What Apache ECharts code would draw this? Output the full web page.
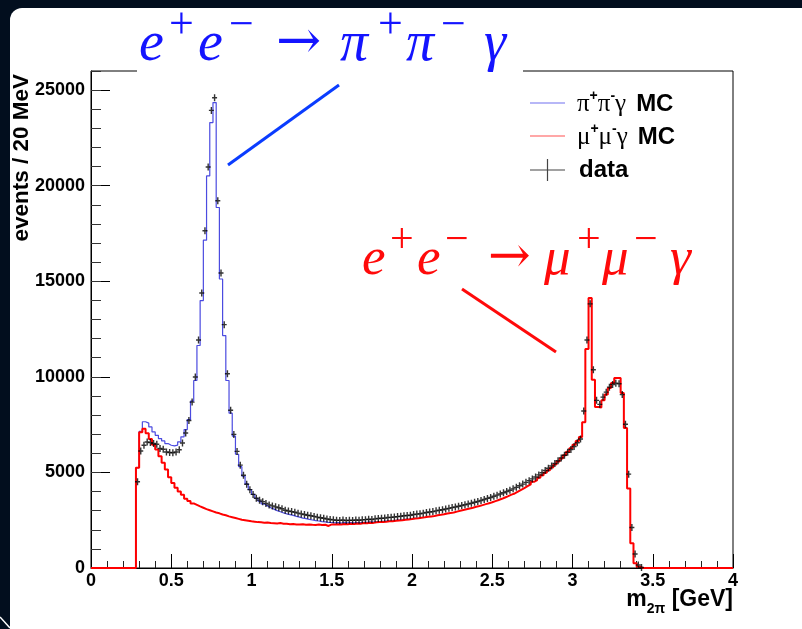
<!DOCTYPE html>
<html>
<head>
<meta charset="utf-8">
<script src="https://cdn.jsdelivr.net/npm/echarts@6/dist/echarts.min.js"></script>
<style>
  html, body { margin: 0; padding: 0; background: #020e1e; }
  #panel { position: absolute; left: 10px; top: 8px; width: 792px; height: 621px; background: #fff; border-top-left-radius: 12px; }
  #chart { position: absolute; left: 0; top: 0; width: 802px; height: 629px; }
</style>
</head>
<body>
<div id="panel"></div>
<div id="chart"></div>
<script>
// Invariant-mass histograms, 20 MeV bins from 0 to 4 GeV
const binWidth = 0.02;

// mu+ mu- gamma Monte Carlo, bins 0..199
const muMC = [
  0, 0, 0, 0, 0, 0, 0, 0, 0, 0, 0, 0, 0, 0,
  5250, 7100, 7290, 7050, 6750, 6450, 6200, 5850, 5500, 5150,
  4750, 4450, 4200, 4000, 3830, 3620, 3500, 3380, 3300, 3220,
  3150, 3080, 3020, 2960, 2900, 2860, 2800, 2760, 2700, 2660,
  2620, 2570, 2520, 2500, 2470, 2440, 2420, 2400, 2390, 2370,
  2380, 2350, 2340, 2330, 2350, 2320, 2310, 2290, 2300, 2280,
  2270, 2290, 2260, 2280, 2260, 2250, 2270, 2250, 2260, 2200,
  2280, 2270, 2290, 2280, 2300, 2290, 2310, 2300, 2330, 2320,
  2350, 2340, 2370, 2360, 2390, 2400, 2410, 2420, 2440, 2450,
  2470, 2490, 2500, 2520, 2540, 2560, 2590, 2600, 2630, 2650,
  2680, 2700, 2720, 2760, 2780, 2810, 2850, 2880, 2900, 2950,
  2990, 3030, 3070, 3110, 3150, 3200, 3240, 3290, 3340, 3390,
  3440, 3500, 3560, 3620, 3690, 3760, 3840, 3900, 4000, 4090,
  4180, 4280, 4380, 4510, 4600, 4720, 4850, 4980, 5120, 5260,
  5410, 5570, 5730, 5900, 6080, 6260, 6450, 6650, 6850, 7630,
  11460, 14130, 9850, 8420, 8400, 8770, 9070, 9420, 9680, 9940,
  9940, 9150, 7320, 4160, 1290, 250, 70,
  0, 0, 0, 0, 0, 0, 0, 0, 0, 0, 0, 0, 0, 0, 0, 0, 0, 0, 0, 0,
  0, 0, 0, 0, 0, 0, 0, 0, 0
];

// pi+ pi- gamma Monte Carlo, bins 0..101 (identical to muMC above 2.04 GeV)
const piMC = [
  0, 0, 0, 0, 0, 0, 0, 0, 0, 0, 0, 0, 0, 0,
  5250, 7150, 7650, 7580, 7380, 7120, 6940, 6770, 6650, 6510,
  6420, 6390, 6430, 6600, 6860, 7240, 7760, 8730, 9810, 11640,
  13990, 17150, 20510, 23300, 24350, 18860, 15120, 12160, 9810, 8100,
  6900, 5950, 5300, 4800, 4400, 4100, 3850, 3650, 3500, 3350,
  3250, 3150, 3080, 3000, 2940, 2880, 2830, 2790, 2750, 2700,
  2660, 2610, 2580, 2540, 2510, 2480, 2460, 2430, 2410, 2390,
  2380, 2360, 2370, 2350, 2370, 2360, 2370, 2360, 2380, 2370,
  2390, 2390, 2410, 2400, 2420, 2430, 2440, 2450, 2460, 2470,
  2490, 2510, 2520, 2540, 2550, 2570, 2600, 2600
];

// measured events, bins 0..199
const dataCounts = [
  0, 0, 0, 0, 0, 0, 0, 0, 0, 0, 0, 0, 0, 0,
  4510, 6120, 6420, 6590, 6560, 6510, 6470, 6250, 6210, 6070,
  6040, 6030, 6070, 6190, 6540, 7060, 7720, 8680, 9990, 11930,
  14390, 17640, 20980, 23940, 24600, 19210, 15430, 12730, 10160, 8250,
  6990, 6100, 5380, 4850, 4380, 4100, 3850, 3650, 3550, 3470,
  3380, 3300, 3250, 3200, 3150, 3100, 3020, 2980, 2950, 2920,
  2870, 2830, 2800, 2760, 2730, 2700, 2660, 2630, 2600, 2560,
  2540, 2520, 2500, 2490, 2510, 2480, 2500, 2490, 2510, 2500,
  2520, 2530, 2550, 2540, 2570, 2590, 2600, 2610, 2640, 2650,
  2670, 2690, 2710, 2730, 2750, 2760, 2800, 2820, 2840, 2870,
  2900, 2930, 2950, 2990, 3020, 3050, 3090, 3120, 3160, 3190,
  3230, 3270, 3310, 3350, 3390, 3440, 3480, 3530, 3580, 3640,
  3690, 3750, 3810, 3870, 3940, 4000, 4070, 4140, 4220, 4300,
  4390, 4480, 4570, 4660, 4760, 4870, 4980, 5100, 5220, 5340,
  5470, 5610, 5760, 5900, 6050, 6200, 6360, 6550, 6750, 8210,
  11930, 13820, 10370, 8770, 8560, 8940, 9200, 9460, 9600, 9670,
  9640, 9070, 7520, 4910, 2120, 730, 160, 30,
  0, 0, 0, 0, 0, 0, 0, 0, 0, 0, 0, 0, 0, 0, 0, 0, 0, 0, 0, 0,
  0, 0, 0, 0, 0, 0, 0, 0
];

const legendLabels = ['π⁺π⁻γ MC', 'μ⁺μ⁻γ MC', 'data'];

// histogram outline: one point per bin low edge, closed at the last upper edge
function histPoints(vals) {
  const pts = vals.map((v, i) => [+(i * binWidth).toFixed(2), v]);
  pts.push([+(vals.length * binWidth).toFixed(2), vals[vals.length - 1]]);
  return pts;
}
// data points at bin centres, empty bins skipped
const dataPoints = [];
dataCounts.forEach((v, i) => { if (v > 0) dataPoints.push([+((i + 0.5) * binWidth).toFixed(3), v]); });

const BLUE = '#4b4be0';
const RED = '#ff0000';
const sans = 'Liberation Sans, Arial, sans-serif';
const serif = 'Liberation Serif, Times New Roman, serif';
const plusPath = 'path://M0,2.8h5v1.4h-5z M1.8,0h1.4v7h-1.4z';

// process labels, one glyph per element: [glyph, left x, kind]
function processLabel(glyphs, yMain, ySup, color, scale) {
  const fonts = {
    m: { font: 'italic ' + Math.round(56 * scale) + 'px ' + serif, dy: 0 },
    s: { font: Math.round(44 * scale) + 'px ' + serif, dy: ySup - yMain },
    a: { font: Math.round(54 * scale) + 'px DejaVu Serif, serif', dy: -1 }
  };
  return glyphs.map(([g, x, k]) => ({
    type: 'text', x: x, y: yMain + fonts[k].dy, z: 101,
    style: { text: g, font: fonts[k].font, fill: color, verticalAlign: 'middle' }
  }));
}
const pipiLabel = processLabel([
  ['e', 139, 'm'], ['+', 169, 's'], ['e', 198, 'm'], ['−', 229, 's'], ['→', 276, 'a'],
  ['π', 340, 'm'], ['+', 378, 's'], ['π', 406, 'm'], ['−', 441, 's'], ['γ', 484, 'm']
], 45, 26, '#1414ff', 1);
const mumuLabel = processLabel([
  ['e', 362, 'm'], ['+', 390, 's'], ['e', 417, 'm'], ['−', 445, 's'], ['→', 488, 'a'],
  ['μ', 544, 'm'], ['+', 577, 's'], ['μ', 602, 'm'], ['−', 634, 's'], ['γ', 670, 'm']
], 260, 241, '#ff0a0a', 0.95);

const legendRich = {
  g: { fontFamily: serif, fontSize: 25, fill: '#000', lineHeight: 28, verticalAlign: 'bottom' },
  p: { fontFamily: sans, fontWeight: 'bold', fontSize: 14, fill: '#000', lineHeight: 14, verticalAlign: 'top' },
  b: { fontFamily: sans, fontWeight: 'bold', fontSize: 24, fill: '#000', lineHeight: 28, verticalAlign: 'bottom', padding: [0, 0, 1, 10] }
};

const chart = echarts.init(document.getElementById('chart'), null, { renderer: 'canvas' });

const option = {
  animation: false,
  backgroundColor: 'transparent',
  grid: { left: 91, right: 69, top: 71, bottom: 61, show: true, borderColor: '#000', borderWidth: 1, backgroundColor: 'transparent' },
  xAxis: {
    type: 'value', min: 0, max: 4, interval: 0.5,
    axisLine: { show: true, onZero: false, lineStyle: { color: '#000', width: 1 } },
    axisTick: { show: true, inside: true, length: 14, lineStyle: { color: '#000', width: 1 } },
    minorTick: { show: true, splitNumber: 5, length: 7, lineStyle: { color: '#222', width: 1 } },
    axisLabel: { color: '#000', fontFamily: sans, fontWeight: 'bold', fontSize: 18, margin: 4 },
    splitLine: { show: false }, minorSplitLine: { show: false }
  },
  yAxis: [
    {
      type: 'value', min: 0, max: 26000, interval: 5000,
      axisLine: { show: true, lineStyle: { color: '#000', width: 1 } },
      axisTick: { show: true, inside: true, length: 19, lineStyle: { color: '#000', width: 1 } },
      axisLabel: { color: '#000', fontFamily: sans, fontWeight: 'bold', fontSize: 18, margin: 6, showMaxLabel: false,
        formatter: v => (v % 5000 === 0 ? String(v) : '') },
      splitLine: { show: false }
    },
    {
      type: 'value', min: 0, max: 26000, interval: 1000, position: 'left',
      axisLine: { show: false },
      axisTick: { show: true, inside: true, length: 10, lineStyle: { color: '#333', width: 1 } },
      axisLabel: { show: false }, splitLine: { show: false }
    }
  ],
  series: [
    { name: legendLabels[0], type: 'line', step: 'end', data: histPoints(piMC), showSymbol: false, clip: false,
      lineStyle: { color: BLUE, width: 1.2 }, z: 2 },
    { name: legendLabels[1], type: 'line', step: 'end', data: histPoints(muMC), showSymbol: false, clip: false,
      lineStyle: { color: RED, width: 2 }, z: 3 },
    { name: legendLabels[2], type: 'scatter', data: dataPoints, symbol: plusPath, symbolSize: [5, 7],
      itemStyle: { color: '#000' }, z: 4 }
  ],
  graphic: [
    // break in the top frame line under the process label
    { type: 'rect', shape: { x: 137, y: 68, width: 386, height: 6 }, style: { fill: '#fff' }, z: 100 },
    ...pipiLabel,
    { type: 'line', shape: { x1: 228, y1: 165, x2: 339, y2: 85 }, style: { stroke: '#0a3cff', lineWidth: 3 }, z: 101 },
    ...mumuLabel,
    { type: 'line', shape: { x1: 462, y1: 289, x2: 556, y2: 352 }, style: { stroke: '#ff0a0a', lineWidth: 3 }, z: 101 },

    // legend
    { type: 'line', shape: { x1: 530, y1: 103, x2: 565, y2: 103 }, style: { stroke: '#7070f0', lineWidth: 1.2 }, z: 101 },
    { type: 'line', shape: { x1: 530, y1: 136, x2: 565, y2: 136 }, style: { stroke: '#ff5050', lineWidth: 1.2 }, z: 101 },
    { type: 'line', shape: { x1: 530, y1: 170, x2: 565, y2: 170 }, style: { stroke: '#444', lineWidth: 1.2 }, z: 101 },
    { type: 'line', shape: { x1: 547.5, y1: 159, x2: 547.5, y2: 181 }, style: { stroke: '#444', lineWidth: 1.2 }, z: 101 },
    { type: 'text', x: 577, y: 103, z: 101,
      style: { text: '{g|π}{p|+}{g|π}{p|-}{g|γ}{b|MC}', verticalAlign: 'middle', fill: '#000', rich: legendRich } },
    { type: 'text', x: 577, y: 136, z: 101,
      style: { text: '{g|μ}{p|+}{g|μ}{p|-}{g|γ}{b|MC}', verticalAlign: 'middle', fill: '#000', rich: legendRich } },
    { type: 'text', x: 579, y: 170, z: 101,
      style: { text: legendLabels[2], font: 'bold 24px ' + sans, fill: '#000', verticalAlign: 'middle' } },

    // axis titles
    { type: 'text', x: 733, y: 602, z: 101,
      style: { text: '{b|m}{sub|2π}{b| [GeV]}', align: 'right', verticalAlign: 'middle', fill: '#000',
        rich: { b: { fontFamily: sans, fontWeight: 'bold', fontSize: 23, fill: '#000', lineHeight: 28, verticalAlign: 'top' },
                sub: { fontFamily: sans, fontWeight: 'bold', fontSize: 14, fill: '#000', lineHeight: 14, verticalAlign: 'bottom' } } } },
    { type: 'text', x: 22, y: 74, rotation: Math.PI / 2, z: 101,
      style: { text: 'events / 20 MeV', font: 'bold 22.5px ' + sans, fill: '#000', align: 'right', verticalAlign: 'middle' } },

    // corner trim of the slide panel
    { type: 'line', shape: { x1: 0, y1: 617, x2: 10, y2: 628 }, style: { stroke: '#fff', lineWidth: 1.5 }, z: 101 }
  ]
};
chart.setOption(option);
</script>
</body>
</html>
